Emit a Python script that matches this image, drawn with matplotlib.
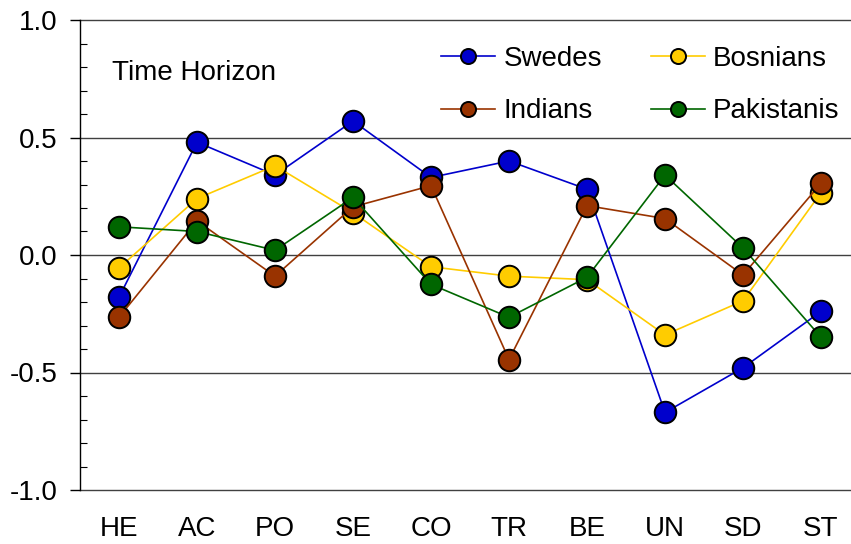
import matplotlib
matplotlib.use("Agg")
import matplotlib.pyplot as plt
from matplotlib.ticker import MultipleLocator

categories = ["HE", "AC", "PO", "SE", "CO", "TR", "BE", "UN", "SD", "ST"]
swedes = [-0.18, 0.48, 0.34, 0.57, 0.33, 0.40, 0.28, -0.67, -0.48, -0.24]
bosnians = [-0.055, 0.24, 0.38, 0.18, -0.05, -0.09, -0.105, -0.34, -0.195, 0.265]
indians = [-0.265, 0.145, -0.09, 0.205, 0.295, -0.445, 0.21, 0.155, -0.085, 0.305]
pakistanis = [0.12, 0.10, 0.02, 0.245, -0.125, -0.265, -0.095, 0.34, 0.03, -0.35]
yticks = [-1.0, -0.5, 0.0, 0.5, 1.0]

plt.rcParams['font.family'] = ['Liberation Sans', 'DejaVu Sans']

fig = plt.figure(figsize=(8.51, 5.44), dpi=100)
ax = fig.add_axes([80/851, 54/544, 780/851, 470/544])

series = [
    ("Swedes", swedes, "#0000cc", "#0000cc"),
    ("Bosnians", bosnians, "#ffcc00", "#ffcc00"),
    ("Indians", indians, "#993300", "#993300"),
    ("Pakistanis", pakistanis, "#006600", "#006600"),
]
x = list(range(len(categories)))
handles = {}
for i, (name, vals, fc, lc) in enumerate(series):
    h, = ax.plot(x, vals, color=lc, lw=1.2, marker='o', ms=15.5,
                 mfc=fc, mec='black', mew=1.4, label=name, zorder=3 + i)
    handles[name] = h

ax.set_xlim(-0.5, 9.5)
ax.set_ylim(-1.0, 1.0)
ax.set_xticks(x)
ax.set_xticklabels(categories)
ax.set_yticks(yticks)
ax.set_yticklabels([f"{v:.1f}" for v in yticks])
ax.yaxis.set_minor_locator(MultipleLocator(0.1))
for v in yticks:
    ax.axhline(v, color='#404040', lw=1.0, zorder=1, clip_on=False)

for s in ['top', 'right', 'bottom']:
    ax.spines[s].set_visible(False)
ax.spines['left'].set_color('black')
ax.spines['left'].set_linewidth(1.0)
ax.tick_params(axis='x', length=0, pad=19, labelsize=20)
ax.tick_params(axis='y', which='major', direction='out', length=7, width=1.0, pad=9, labelsize=20)
ax.tick_params(axis='y', which='minor', direction='in', length=5, width=0.8)

ax.text(-0.09, 0.775, "Time Horizon", fontsize=20, va='center', ha='left')

order = ["Swedes", "Indians", "Bosnians", "Pakistanis"]
leg = ax.legend([handles[n] for n in order], order, ncol=2, frameon=False,
                loc='upper left', bbox_to_anchor=(441/851, 1 - 46/544),
                bbox_transform=fig.transFigure, fontsize=20, markerscale=0.7,
                handlelength=1.95, handletextpad=0.3, columnspacing=1.75,
                labelspacing=0.95, borderpad=0, borderaxespad=0)

fig.savefig("out.png", dpi=100)
